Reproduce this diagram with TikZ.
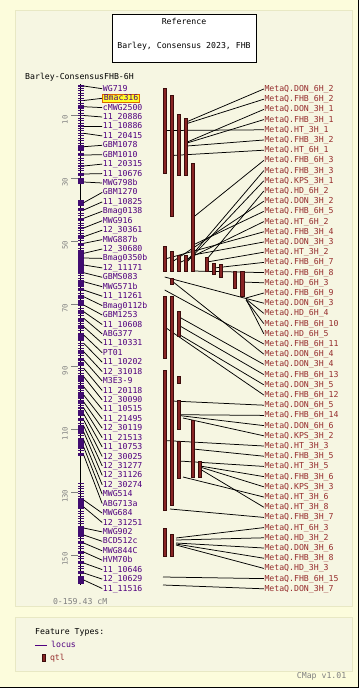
\documentclass[tikz,border=0pt]{standalone}
\usepackage{fontspec}
\setmonofont{DejaVu Sans Mono}
\usepackage{tikz}

\definecolor{pagebg}{RGB}{252,252,220}
\definecolor{panelbg}{RGB}{246,246,226}
\definecolor{panelrule}{RGB}{232,232,196}
\definecolor{locusink}{RGB}{80,0,128}
\definecolor{chromink}{RGB}{64,12,112}
\definecolor{qtlink}{RGB}{150,45,45}
\definecolor{qtlfill}{RGB}{136,36,36}
\definecolor{qtlrule}{RGB}{60,12,12}
\definecolor{scaleink}{RGB}{128,128,128}
\definecolor{pickfill}{RGB}{255,255,40}
\definecolor{pickrule}{RGB}{220,100,0}

\begin{document}
\begin{tikzpicture}[x=1pt, y=-1pt,
  every node/.style={font=\ttfamily\fontsize{8.2}{9}\selectfont, inner sep=0.5pt, text height=5.5pt, text depth=0.5pt},
  locus label/.style={anchor=west, text=locusink},
  qtl label/.style={anchor=west, text=qtlink},
  locus tick/.style={fill=chromink, minimum width=6pt, minimum height=1.6pt, inner sep=0pt, text height=0pt, text depth=0pt},
  link/.style={black, line width=0.75pt},
  qtl bar/.style={fill=qtlfill, draw=qtlrule, line width=0.5pt},
  picked/.style={fill=pickfill, draw=pickrule, line width=0.8pt, inner xsep=1.2pt, minimum height=8pt},
  scale label/.style={text=scaleink, rotate=90, font=\ttfamily\fontsize{7.2}{8}\selectfont},
  scale tick/.style={draw=scaleink, line width=0.6pt},
  locus ladder/.style={draw=chromink, line width=6pt, dash pattern=on 1.2pt off 1.3pt}]
\useasboundingbox (0,0) rectangle (362,689);
\fill [white] (0,0) rectangle (362,689);
\fill [pagebg] (0,0) rectangle (358.5,687);
\draw [black, line width=1pt] (358.5,0) -- (358.5,687) -- (0,687);

% panels
\draw [panelrule, fill=panelbg, line width=0.8pt] (15,10) rectangle (352,606.7);
\draw [panelrule, fill=panelbg, line width=0.8pt] (15,617) rectangle (352,671);

% reference box
\node [draw=black, fill=white, line width=0.8pt, minimum width=144pt, minimum height=48pt] (refbox) at (184,38) {};
\node (reftitle) at (184,22) {Reference};
\node (refname) at (184,46) {Barley, Consensus 2023, FHB};
\node [anchor=west] (maptitle) at (24.5,77) {Barley-ConsensusFHB-6H};

% chromosome
\draw [black, line width=1.6pt] (80.5,84.3) -- (80.5,584.6);
\draw [locus ladder] (80.5,85) -- (80.5,183);
\draw [locus ladder] (80.5,200) -- (80.5,457);
\draw [locus ladder] (80.5,483) -- (80.5,584);
\fill [chromink] (77.5,147) rectangle (83.5,150);
\fill [chromink] (77.5,178) rectangle (83.5,183);
\fill [chromink] (77.5,200) rectangle (83.5,206);
\fill [chromink] (77.5,218) rectangle (83.5,221);
\fill [chromink] (77.5,243) rectangle (83.5,246);
\fill [chromink] (77.5,250) rectangle (83.5,273);
\fill [chromink] (77.5,283) rectangle (83.5,287);
\fill [chromink] (77.5,300) rectangle (83.5,304);
\fill [chromink] (77.5,318) rectangle (83.5,322);
\fill [chromink] (77.5,336) rectangle (83.5,340);
\fill [chromink] (77.5,362) rectangle (83.5,366);
\fill [chromink] (77.5,378) rectangle (83.5,382);
\fill [chromink] (77.5,392) rectangle (83.5,398);
\fill [chromink] (77.5,410) rectangle (83.5,416);
\fill [chromink] (77.5,426) rectangle (83.5,432);
\fill [chromink] (77.5,440) rectangle (83.5,446);
\fill [chromink] (77.5,500) rectangle (83.5,508);
\fill [chromink] (77.5,527) rectangle (83.5,536);
\fill [chromink] (77.5,577) rectangle (83.5,583);

% scale
\draw [scale tick] (71,115.7) -- (78,115.7);
\draw [scale tick] (71,178.4) -- (78,178.4);
\draw [scale tick] (71,241.2) -- (78,241.2);
\draw [scale tick] (71,304) -- (78,304);
\draw [scale tick] (71,366.7) -- (78,366.7);
\draw [scale tick] (71,429.5) -- (78,429.5);
\draw [scale tick] (71,492.2) -- (78,492.2);
\draw [scale tick] (71,555) -- (78,555);
\node [scale label] (k10) at (65,119.7) {10};
\node [scale label] (k30) at (65,182.4) {30};
\node [scale label] (k50) at (65,245.2) {50};
\node [scale label] (k70) at (65,308) {70};
\node [scale label] (k90) at (65,370.7) {90};
\node [scale label] (k110) at (65,433.5) {110};
\node [scale label] (k130) at (65,496.2) {130};
\node [scale label] (k150) at (65,559) {150};
\node [anchor=west, text=scaleink] (span) at (52.3,602) {0-159.43 cM};

% loci
\node [locus tick] (t1) at (80.5,86) {};     \node [locus label] (m1) at (102.2,88.7) {WG719};
\node [locus tick] (t2) at (80.5,100.5) {};  \node [locus label, picked] (m2) at (102.2,98.3) {Bmac316};
\node [locus tick] (t3) at (80.5,106.7) {};  \node [locus label] (m3) at (102.2,107.6) {cMWG2500};
\node [locus tick] (t4) at (80.5,115.5) {};  \node [locus label] (m4) at (102.2,117) {11\_20886};
\node [locus tick] (t5) at (80.5,126.5) {};  \node [locus label] (m5) at (102.2,126.4) {11\_10886};
\node [locus tick] (t6) at (80.5,133.3) {};  \node [locus label] (m6) at (102.2,135.9) {11\_20415};
\node [locus tick] (t7) at (80.5,146.7) {};  \node [locus label] (m7) at (102.2,145.3) {GBM1078};
\node [locus tick] (t8) at (80.5,155) {};    \node [locus label] (m8) at (102.2,154.7) {GBM1010};
\node [locus tick] (t9) at (80.5,166) {};    \node [locus label] (m9) at (102.2,164.1) {11\_20315};
\node [locus tick] (t10) at (80.5,174) {};   \node [locus label] (m10) at (102.2,173.6) {11\_10676};
\node [locus tick] (t11) at (80.5,182) {};   \node [locus label] (m11) at (102.2,183) {MWG798b};
\node [locus tick] (t12) at (80.5,202.7) {}; \node [locus label] (m12) at (102.2,192.4) {GBM1270};
\node [locus tick] (t13) at (80.5,210) {};   \node [locus label] (m13) at (102.2,201.9) {11\_10825};
\node [locus tick] (t14) at (80.5,218.3) {}; \node [locus label] (m14) at (102.2,211.3) {Bmag0138};
\node [locus tick] (t15) at (80.5,228) {};   \node [locus label] (m15) at (102.2,220.7) {MWG916};
\node [locus tick] (t16) at (80.5,236.7) {}; \node [locus label] (m16) at (102.2,230.2) {12\_30361};
\node [locus tick] (t17) at (80.5,243.3) {}; \node [locus label] (m17) at (102.2,239.6) {MWG887b};
\node [locus tick] (t18) at (80.5,253.3) {}; \node [locus label] (m18) at (102.2,249) {12\_30680};
\node [locus tick] (t19) at (80.5,258) {};   \node [locus label] (m19) at (102.2,258.4) {Bmag0350b};
\node [locus tick] (t20) at (80.5,265) {};   \node [locus label] (m20) at (102.2,267.9) {12\_11171};
\node [locus tick] (t21) at (80.5,272.7) {}; \node [locus label] (m21) at (102.2,277.3) {GBMS083};
\node [locus tick] (t22) at (80.5,281.7) {}; \node [locus label] (m22) at (102.2,286.7) {MWG571b};
\node [locus tick] (t23) at (80.5,290) {};   \node [locus label] (m23) at (102.2,296.2) {11\_11261};
\node [locus tick] (t24) at (80.5,296.7) {}; \node [locus label] (m24) at (102.2,305.6) {Bmag0112b};
\node [locus tick] (t25) at (80.5,305) {};   \node [locus label] (m25) at (102.2,315) {GBM1253};
\node [locus tick] (t26) at (80.5,311.7) {}; \node [locus label] (m26) at (102.2,324.5) {11\_10608};
\node [locus tick] (t27) at (80.5,318.3) {}; \node [locus label] (m27) at (102.2,333.9) {ABG377};
\node [locus tick] (t28) at (80.5,326.7) {}; \node [locus label] (m28) at (102.2,343.3) {11\_10331};
\node [locus tick] (t29) at (80.5,335) {};   \node [locus label] (m29) at (102.2,352.7) {PT01};
\node [locus tick] (t30) at (80.5,343.3) {}; \node [locus label] (m30) at (102.2,362.2) {11\_10202};
\node [locus tick] (t31) at (80.5,351.7) {}; \node [locus label] (m31) at (102.2,371.6) {12\_31018};
\node [locus tick] (t32) at (80.5,360) {};   \node [locus label] (m32) at (102.2,381) {M3E3-9};
\node [locus tick] (t33) at (80.5,368.3) {}; \node [locus label] (m33) at (102.2,390.5) {11\_20118};
\node [locus tick] (t34) at (80.5,376.7) {}; \node [locus label] (m34) at (102.2,399.9) {12\_30090};
\node [locus tick] (t35) at (80.5,386.7) {}; \node [locus label] (m35) at (102.2,409.3) {11\_10515};
\node [locus tick] (t36) at (80.5,395) {};   \node [locus label] (m36) at (102.2,418.8) {11\_21495};
\node [locus tick] (t37) at (80.5,402) {};   \node [locus label] (m37) at (102.2,428.2) {12\_30119};
\node [locus tick] (t38) at (80.5,408) {};   \node [locus label] (m38) at (102.2,437.6) {11\_21513};
\node [locus tick] (t39) at (80.5,414) {};   \node [locus label] (m39) at (102.2,447) {11\_10753};
\node [locus tick] (t40) at (80.5,420) {};   \node [locus label] (m40) at (102.2,456.5) {12\_30025};
\node [locus tick] (t41) at (80.5,426) {};   \node [locus label] (m41) at (102.2,465.9) {12\_31277};
\node [locus tick] (t42) at (80.5,432) {};   \node [locus label] (m42) at (102.2,475.3) {12\_31126};
\node [locus tick] (t43) at (80.5,440) {};   \node [locus label] (m43) at (102.2,484.8) {12\_30274};
\node [locus tick] (t44) at (80.5,447) {};   \node [locus label] (m44) at (102.2,494.2) {MWG514};
\node [locus tick] (t45) at (80.5,455) {};   \node [locus label] (m45) at (102.2,503.6) {ABG713a};
\node [locus tick] (t46) at (80.5,500) {};   \node [locus label] (m46) at (102.2,513.1) {MWG684};
\node [locus tick] (t47) at (80.5,507) {};   \node [locus label] (m47) at (102.2,522.5) {12\_31251};
\node [locus tick] (t48) at (80.5,528) {};   \node [locus label] (m48) at (102.2,531.9) {MWG902};
\node [locus tick] (t49) at (80.5,535) {};   \node [locus label] (m49) at (102.2,541.3) {BCD512c};
\node [locus tick] (t50) at (80.5,543) {};   \node [locus label] (m50) at (102.2,550.8) {MWG844C};
\node [locus tick] (t51) at (80.5,552) {};   \node [locus label] (m51) at (102.2,560.2) {HVM70b};
\node [locus tick] (t52) at (80.5,563) {};   \node [locus label] (m52) at (102.2,569.6) {11\_10646};
\node [locus tick] (t53) at (80.5,573) {};   \node [locus label] (m53) at (102.2,579.1) {12\_10629};
\node [locus tick] (t54) at (80.5,580) {};   \node [locus label] (m54) at (102.2,588.5) {11\_11516};

\draw [link] (t1.east) -- (m1.west);   \draw [link] (t2.east) -- (m2.west);
\draw [link] (t3.east) -- (m3.west);   \draw [link] (t4.east) -- (m4.west);
\draw [link] (t5.east) -- (m5.west);   \draw [link] (t6.east) -- (m6.west);
\draw [link] (t7.east) -- (m7.west);   \draw [link] (t8.east) -- (m8.west);
\draw [link] (t9.east) -- (m9.west);   \draw [link] (t10.east) -- (m10.west);
\draw [link] (t11.east) -- (m11.west); \draw [link] (t12.east) -- (m12.west);
\draw [link] (t13.east) -- (m13.west); \draw [link] (t14.east) -- (m14.west);
\draw [link] (t15.east) -- (m15.west); \draw [link] (t16.east) -- (m16.west);
\draw [link] (t17.east) -- (m17.west); \draw [link] (t18.east) -- (m18.west);
\draw [link] (t19.east) -- (m19.west); \draw [link] (t20.east) -- (m20.west);
\draw [link] (t21.east) -- (m21.west); \draw [link] (t22.east) -- (m22.west);
\draw [link] (t23.east) -- (m23.west); \draw [link] (t24.east) -- (m24.west);
\draw [link] (t25.east) -- (m25.west); \draw [link] (t26.east) -- (m26.west);
\draw [link] (t27.east) -- (m27.west); \draw [link] (t28.east) -- (m28.west);
\draw [link] (t29.east) -- (m29.west); \draw [link] (t30.east) -- (m30.west);
\draw [link] (t31.east) -- (m31.west); \draw [link] (t32.east) -- (m32.west);
\draw [link] (t33.east) -- (m33.west); \draw [link] (t34.east) -- (m34.west);
\draw [link] (t35.east) -- (m35.west); \draw [link] (t36.east) -- (m36.west);
\draw [link] (t37.east) -- (m37.west); \draw [link] (t38.east) -- (m38.west);
\draw [link] (t39.east) -- (m39.west); \draw [link] (t40.east) -- (m40.west);
\draw [link] (t41.east) -- (m41.west); \draw [link] (t42.east) -- (m42.west);
\draw [link] (t43.east) -- (m43.west); \draw [link] (t44.east) -- (m44.west);
\draw [link] (t45.east) -- (m45.west); \draw [link] (t46.east) -- (m46.west);
\draw [link] (t47.east) -- (m47.west); \draw [link] (t48.east) -- (m48.west);
\draw [link] (t49.east) -- (m49.west); \draw [link] (t50.east) -- (m50.west);
\draw [link] (t51.east) -- (m51.west); \draw [link] (t52.east) -- (m52.west);
\draw [link] (t53.east) -- (m53.west); \draw [link] (t54.east) -- (m54.west);

% qtl labels
\node [qtl label] (q1) at (263.8,89) {MetaQ.DON\_6H\_2};
\node [qtl label] (q2) at (263.8,99.2) {MetaQ.FHB\_6H\_2};
\node [qtl label] (q3) at (263.8,109.4) {MetaQ.DON\_3H\_1};
\node [qtl label] (q4) at (263.8,119.6) {MetaQ.FHB\_3H\_1};
\node [qtl label] (q5) at (263.8,129.8) {MetaQ.HT\_3H\_1};
\node [qtl label] (q6) at (263.8,140) {MetaQ.FHB\_3H\_2};
\node [qtl label] (q7) at (263.8,150.2) {MetaQ.HT\_6H\_1};
\node [qtl label] (q8) at (263.8,160.4) {MetaQ.FHB\_6H\_3};
\node [qtl label] (q9) at (263.8,170.6) {MetaQ.FHB\_3H\_3};
\node [qtl label] (q10) at (263.8,180.8) {MetaQ.KPS\_3H\_1};
\node [qtl label] (q11) at (263.8,191) {MetaQ.HD\_6H\_2};
\node [qtl label] (q12) at (263.8,201.2) {MetaQ.DON\_3H\_2};
\node [qtl label] (q13) at (263.8,211.4) {MetaQ.FHB\_6H\_5};
\node [qtl label] (q14) at (263.8,221.6) {MetaQ.HT\_6H\_2};
\node [qtl label] (q15) at (263.8,231.8) {MetaQ.FHB\_3H\_4};
\node [qtl label] (q16) at (263.8,242) {MetaQ.DON\_3H\_3};
\node [qtl label] (q17) at (263.8,252.2) {MetaQ.HT\_3H\_2};
\node [qtl label] (q18) at (263.8,262.4) {MetaQ.FHB\_6H\_7};
\node [qtl label] (q19) at (263.8,272.6) {MetaQ.FHB\_6H\_8};
\node [qtl label] (q20) at (263.8,282.8) {MetaQ.HD\_6H\_3};
\node [qtl label] (q21) at (263.8,293) {MetaQ.FHB\_6H\_9};
\node [qtl label] (q22) at (263.8,303.2) {MetaQ.DON\_6H\_3};
\node [qtl label] (q23) at (263.8,313.4) {MetaQ.HD\_6H\_4};
\node [qtl label] (q24) at (263.8,323.6) {MetaQ.FHB\_6H\_10};
\node [qtl label] (q25) at (263.8,333.8) {MetaQ.HD\_6H\_5};
\node [qtl label] (q26) at (263.8,344) {MetaQ.FHB\_6H\_11};
\node [qtl label] (q27) at (263.8,354.2) {MetaQ.DON\_6H\_4};
\node [qtl label] (q28) at (263.8,364.4) {MetaQ.DON\_3H\_4};
\node [qtl label] (q29) at (263.8,374.6) {MetaQ.FHB\_6H\_13};
\node [qtl label] (q30) at (263.8,384.8) {MetaQ.DON\_3H\_5};
\node [qtl label] (q31) at (263.8,395) {MetaQ.FHB\_6H\_12};
\node [qtl label] (q32) at (263.8,405.2) {MetaQ.DON\_6H\_5};
\node [qtl label] (q33) at (263.8,415.4) {MetaQ.FHB\_6H\_14};
\node [qtl label] (q34) at (263.8,425.6) {MetaQ.DON\_6H\_6};
\node [qtl label] (q35) at (263.8,435.8) {MetaQ.KPS\_3H\_2};
\node [qtl label] (q36) at (263.8,446) {MetaQ.HT\_3H\_3};
\node [qtl label] (q37) at (263.8,456.2) {MetaQ.FHB\_3H\_5};
\node [qtl label] (q38) at (263.8,466.4) {MetaQ.HT\_3H\_5};
\node [qtl label] (q39) at (263.8,476.6) {MetaQ.FHB\_3H\_6};
\node [qtl label] (q40) at (263.8,486.8) {MetaQ.KPS\_3H\_3};
\node [qtl label] (q41) at (263.8,497) {MetaQ.HT\_3H\_6};
\node [qtl label] (q42) at (263.8,507.2) {MetaQ.HT\_3H\_8};
\node [qtl label] (q43) at (263.8,517.4) {MetaQ.FHB\_3H\_7};
\node [qtl label] (q44) at (263.8,527.6) {MetaQ.HT\_6H\_3};
\node [qtl label] (q45) at (263.8,537.8) {MetaQ.HD\_3H\_2};
\node [qtl label] (q46) at (263.8,548) {MetaQ.DON\_3H\_6};
\node [qtl label] (q47) at (263.8,558.2) {MetaQ.FHB\_3H\_8};
\node [qtl label] (q48) at (263.8,568.4) {MetaQ.HD\_3H\_3};
\node [qtl label] (q49) at (263.8,578.6) {MetaQ.FHB\_6H\_15};
\node [qtl label] (q50) at (263.8,588.8) {MetaQ.DON\_3H\_7};

% qtl anchor points
\coordinate (s1) at (187,121.7);  \coordinate (s2) at (187,123.5);
\coordinate (s3) at (188,141.7);  \coordinate (s4) at (188,142.7);
\coordinate (s5) at (165,130.5);  \coordinate (s6) at (187,146);
\coordinate (s7) at (172,155.5);  \coordinate (s8) at (193,217.5);
\coordinate (s9) at (186,262);    \coordinate (s10) at (186,263);
\coordinate (s11) at (207,259);   \coordinate (s12) at (172,262);
\coordinate (s13) at (193,245);   \coordinate (s14) at (179,263);
\coordinate (s15) at (165,259);   \coordinate (s16) at (193,255);
\coordinate (s17) at (207,262);   \coordinate (s18) at (214,268);
\coordinate (s19) at (193,271);   \coordinate (s20) at (242.3,282);
\coordinate (s21) at (246,298);   \coordinate (s22) at (164.7,277);
\coordinate (s23) at (246,299);   \coordinate (s24) at (246,300);
\coordinate (s25) at (247,301);   \coordinate (s26) at (164.7,290);
\coordinate (s27) at (172,281);   \coordinate (s28) at (181,318);
\coordinate (s29) at (180,326);   \coordinate (s30) at (180,335);
\coordinate (s31) at (164.7,327); \coordinate (s32) at (172,401);
\coordinate (s33) at (179,414.7); \coordinate (s34) at (179,415.5);
\coordinate (s35) at (183,418);   \coordinate (s36) at (164.7,440.5);
\coordinate (s37) at (193,449);   \coordinate (s38) at (179,461);
\coordinate (s39) at (200,466);   \coordinate (s40) at (200,467);
\coordinate (s41) at (183,477);   \coordinate (s42) at (200,469);
\coordinate (s43) at (170,509);   \coordinate (s44) at (176,538);
\coordinate (s45) at (176,540);   \coordinate (s46) at (176,543);
\coordinate (s47) at (176,544);   \coordinate (s48) at (176,545);
\coordinate (s49) at (163,577);   \coordinate (s50) at (163,585);

\draw [link] (s1) -- (q1.west);   \draw [link] (s2) -- (q2.west);
\draw [link] (s3) -- (q3.west);   \draw [link] (s4) -- (q4.west);
\draw [link] (s5) -- (q5.west);   \draw [link] (s6) -- (q6.west);
\draw [link] (s7) -- (q7.west);   \draw [link] (s8) -- (q8.west);
\draw [link] (s9) -- (q9.west);   \draw [link] (s10) -- (q10.west);
\draw [link] (s11) -- (q11.west); \draw [link] (s12) -- (q12.west);
\draw [link] (s13) -- (q13.west); \draw [link] (s14) -- (q14.west);
\draw [link] (s15) -- (q15.west); \draw [link] (s16) -- (q16.west);
\draw [link] (s17) -- (q17.west); \draw [link] (s18) -- (q18.west);
\draw [link] (s19) -- (q19.west); \draw [link] (s20) -- (q20.west);
\draw [link] (s21) -- (q21.west); \draw [link] (s22) -- (q22.west);
\draw [link] (s23) -- (q23.west); \draw [link] (s24) -- (q24.west);
\draw [link] (s25) -- (q25.west); \draw [link] (s26) -- (q26.west);
\draw [link] (s27) -- (q27.west); \draw [link] (s28) -- (q28.west);
\draw [link] (s29) -- (q29.west); \draw [link] (s30) -- (q30.west);
\draw [link] (s31) -- (q31.west); \draw [link] (s32) -- (q32.west);
\draw [link] (s33) -- (q33.west); \draw [link] (s34) -- (q34.west);
\draw [link] (s35) -- (q35.west); \draw [link] (s36) -- (q36.west);
\draw [link] (s37) -- (q37.west); \draw [link] (s38) -- (q38.west);
\draw [link] (s39) -- (q39.west); \draw [link] (s40) -- (q40.west);
\draw [link] (s41) -- (q41.west); \draw [link] (s42) -- (q42.west);
\draw [link] (s43) -- (q43.west); \draw [link] (s44) -- (q44.west);
\draw [link] (s45) -- (q45.west); \draw [link] (s46) -- (q46.west);
\draw [link] (s47) -- (q47.west); \draw [link] (s48) -- (q48.west);
\draw [link] (s49) -- (q49.west); \draw [link] (s50) -- (q50.west);

% qtl bars
\draw [qtl bar] (163,88.3) rectangle (166.4,173.3);
\draw [qtl bar] (170.3,95) rectangle (173.7,216);
\draw [qtl bar] (177.3,114) rectangle (180.7,175.3);
\draw [qtl bar] (184.3,118.3) rectangle (187.7,175.3);
\draw [qtl bar] (191.3,163.3) rectangle (194.7,271.7);
\draw [qtl bar] (163,246) rectangle (166.4,271.7);
\draw [qtl bar] (170.3,251.5) rectangle (173.7,271.7);
\draw [qtl bar] (177.3,255) rectangle (180.7,271.7);
\draw [qtl bar] (184.3,255) rectangle (187.7,271.7);
\draw [qtl bar] (205,257.3) rectangle (208.4,271);
\draw [qtl bar] (212.3,263.3) rectangle (215.7,274.3);
\draw [qtl bar] (219.3,264) rectangle (222.7,277.7);
\draw [qtl bar] (233.3,271.7) rectangle (236.7,288.3);
\draw [qtl bar] (240.6,271.7) rectangle (244,296.7);
\draw [qtl bar] (170.3,278.3) rectangle (173.7,284);
\draw [qtl bar] (163,296) rectangle (166.4,358.3);
\draw [qtl bar] (170.3,296.5) rectangle (173.7,505);
\draw [qtl bar] (177.3,311) rectangle (180.7,336.7);
\draw [qtl bar] (163,370.5) rectangle (166.4,510);
\draw [qtl bar] (177.3,376) rectangle (180.7,383.3);
\draw [qtl bar] (177.3,400) rectangle (180.7,429.3);
\draw [qtl bar] (191.3,420.7) rectangle (194.7,477.3);
\draw [qtl bar] (177.3,441.7) rectangle (180.7,478.3);
\draw [qtl bar] (198.3,461) rectangle (201.7,477.3);
\draw [qtl bar] (163,528.3) rectangle (166.4,556);
\draw [qtl bar] (170.3,534.3) rectangle (173.7,556);

% legend
\node [anchor=west] (legendtitle) at (34.5,631.7) {Feature Types:};
\draw [locusink, line width=0.8pt] (35,645) -- (46.7,645);
\node [anchor=west, text=locusink] (legendlocus) at (50.5,645) {locus};
\draw [qtl bar] (42.7,654) rectangle (45.7,661.7);
\node [anchor=west, text=qtlink] (legendqtl) at (49.3,658) {qtl};
\node [anchor=east, text=scaleink] (version) at (347,675.7) {CMap v1.01};
\end{tikzpicture}
\end{document}
